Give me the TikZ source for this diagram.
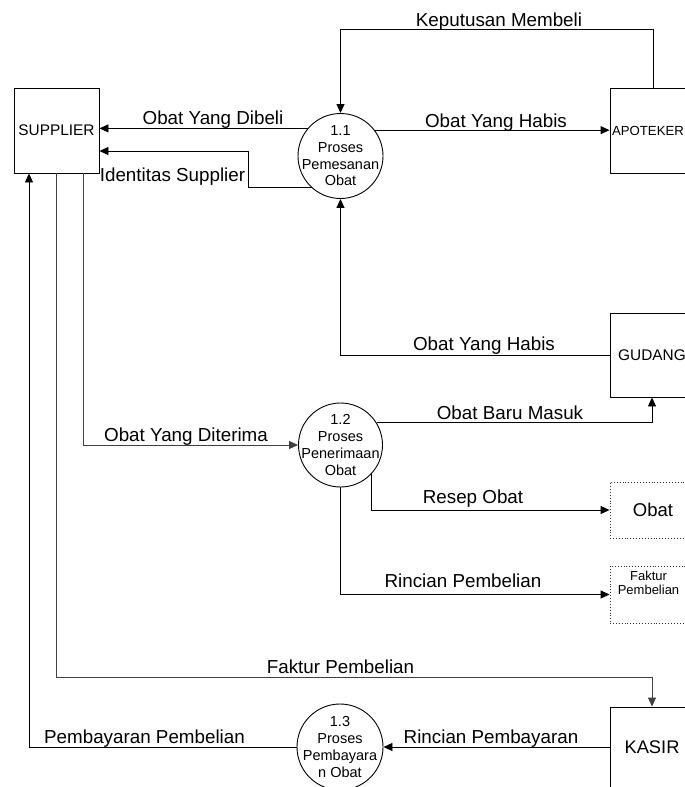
\documentclass[tikz,border=0pt]{standalone}
\usepackage{fontspec}
\setmainfont{Liberation Sans}
\usetikzlibrary{arrows.meta,calc}
\begin{document}
\begin{tikzpicture}[x=1pt,y=-1pt,
  line width=0.9pt,
  arr/.style={-{Triangle[length=9pt,width=8pt]}},
  ent/.style={draw, rectangle, inner sep=0pt, font=\fontsize{15.4}{18}\selectfont},
  proc/.style={draw, circle, minimum size=85pt, inner sep=-15pt, align=center, font=\fontsize{14.5}{16.7}\selectfont},
  store/.style={draw=black!80, dotted, rectangle, inner sep=0pt},
  lbl/.style={anchor=base, inner sep=0pt, font=\fontsize{18.8}{22}\selectfont},
  faint/.style={draw=black!75}
]
\useasboundingbox (0,0) rectangle (685,787);
\fill[white] (0,0) rectangle (685,787);
\clip (0,0) rectangle (685,787);

% entities
\node[ent, minimum width=85pt, minimum height=85pt] (sup) at (56.5,130.5) {SUPPLIER};
\node[ent, minimum width=86pt, minimum height=85pt,
  label={[anchor=west, inner sep=0pt, xshift=2pt, font=\fontsize{13.2}{16}\selectfont]west:APOTEKER}] (apo) at (653,130.5) {};
\node[ent, minimum width=84pt, minimum height=84pt] (gud) at (652,355) {GUDANG};
\node[ent, minimum width=84pt, minimum height=80pt, font=\fontsize{18.3}{22}\selectfont] (kas) at (652,747) {KASIR};

% processes
\node[proc] (p11) at (340.5,156) {1.1\\Proses\\Pemesanan\\Obat};
\node[proc, minimum size=84pt] (p12) at (340.5,445) {1.2\\Proses\\Penerimaan\\Obat};
\node[proc, minimum size=86pt] (p13) at (340,747) {1.3\\Proses\\Pembayara\\n Obat};

% data stores
\node[store, minimum width=86pt, minimum height=56pt, font=\fontsize{18.5}{22}\selectfont] (obt) at (653,510) {Obat};
\node[store, minimum width=86pt, minimum height=57pt,
  label={[anchor=north, inner sep=0pt, yshift=-5pt, xshift=-4.5pt, align=center, font=\fontsize{13}{14}\selectfont]north:Faktur\\Pembelian}] (fak) at (653,594.5) {};

% connectors
\draw[arr] (apo.north) -- ++(0,-58) -| (p11.north);
\draw[arr] (p11.37) -- (p11.37 -| apo.west);
\draw[arr] (p11.140) -- (p11.140 -| sup.east);
\coordinate (ib) at (248,151);
\draw[arr] (p11.228) -| (ib) -- (ib -| sup.east);
\draw[arr] (gud.west) -| (p11.south);
\draw[arr] (p12.32) -| (gud.south);
\draw[arr,faint] ([xshift=26.5pt]sup.south) |- (p12.west);
\draw[arr] (p12.-44) |- (obt.west);
\draw[arr] (p12.south) |- (fak.west);
\coordinate (kt) at ($(kas.north)+(0,-29)$);
\draw[arr,faint] (sup.south) |- (kt) -- (kas.north);
\draw[arr] (kas.west) -- (p13.east);
\draw[arr] (p13.west) -| ([xshift=-27.5pt]sup.south);

% labels
\node[lbl] (l1) at (499,26) {Keputusan Membeli};
\node[lbl] (l2) at (496,127) {Obat Yang Habis};
\node[lbl] (l3) at (213,124) {Obat Yang Dibeli};
\node[lbl] (l4) at (172.5,181) {Identitas Supplier};
\node[lbl] (l5) at (484,350) {Obat Yang Habis};
\node[lbl] (l6) at (510,419) {Obat Baru Masuk};
\node[lbl] (l7) at (186,441) {Obat Yang Diterima};
\node[lbl] (l8) at (473,503) {Resep Obat};
\node[lbl] (l9) at (463,587) {Rincian Pembelian};
\node[lbl] (l10) at (340.5,673) {Faktur Pembelian};
\node[lbl] (l11) at (144.5,743) {Pembayaran Pembelian};
\node[lbl] (l12) at (491,743) {Rincian Pembayaran};
\end{tikzpicture}
\end{document}
